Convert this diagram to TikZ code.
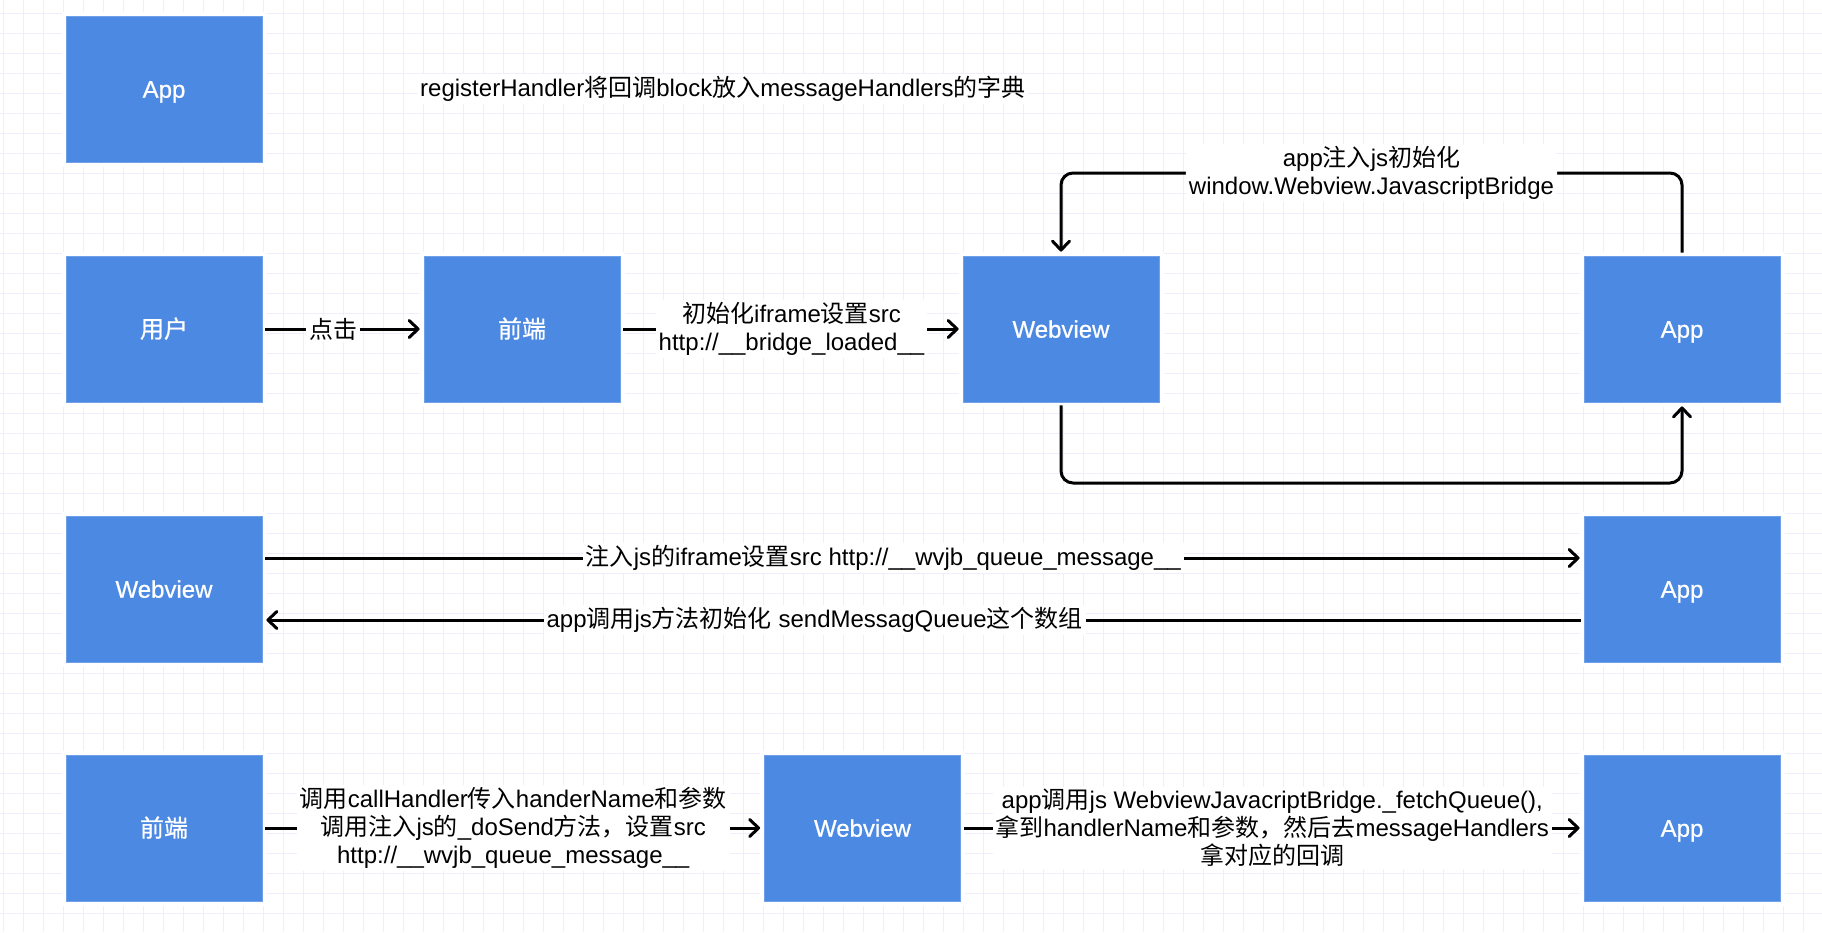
\documentclass[tikz,border=0pt]{standalone}
\usepackage{fontspec}
\setmainfont{Liberation Sans}
\newfontfamily\cjkfont{Noto Sans CJK SC}
\newfontface\boxlatin{Liberation Sans}[FakeBold=0.7]
\newfontface\boxcjk{Noto Sans CJK SC}[FakeBold=0.7]
\newcommand\zh[1]{{\cjkfont #1}}
\newcommand\bzh[1]{{\boxcjk #1}}
\newcommand\boxfont{\fontsize{24}{28}\boxlatin}
\newcommand\lblfont{\fontsize{24}{28}\selectfont}
\usetikzlibrary{arrows.meta}
\definecolor{boxblue}{RGB}{76,137,226}
\definecolor{boxedge}{RGB}{112,160,234}
\definecolor{gridline}{RGB}{238,238,252}

\begin{document}
\begin{tikzpicture}[x=1pt,y=-1pt,
  bluebox/.style={rectangle, minimum width=196pt, minimum height=146pt, inner sep=0pt,
    text height=22pt, text depth=4.6pt,
    fill=boxblue, draw=boxedge, line width=0.8pt,
    preaction={draw=white, line width=9pt}, text=white, font=\boxfont},
  conn/.style={line width=3pt, -{Straight Barb[round, length=9pt, width=17pt]},
    shorten <=3pt, shorten >=4pt},
  lbl/.style={fill=white, inner xsep=3pt, inner ysep=2pt, align=center,
    font=\lblfont, text=black},
]
% canvas and background grid
\useasboundingbox (0,0) rectangle (1822,932);
\fill[white] (0,0) rectangle (1822,932);
\foreach \x in {3,23,...,1822} \draw[gridline, line width=1pt] (\x,0) -- (\x,932);
\foreach \y in {13,33,...,932} \draw[gridline, line width=1pt] (0,\y) -- (1822,\y);

% header
\node[bluebox] (apptop) at (164,89) {App};
\node[fill=white, inner sep=2pt, font=\lblfont] (regnote) at (723,89)
  {registerHandler\zh{将回调}block\zh{放入}messageHandlers\zh{的字典}};

% row: user click and bridge loading
\node[bluebox] (user) at (164,329) {\bzh{用户}};
\node[bluebox] (fe1)  at (522,329) {\bzh{前端}};
\node[bluebox] (wv1)  at (1061,329) {Webview};
\node[bluebox] (app1) at (1682,329) {App};
\coordinate (toplane) at (0,173);
\coordinate (botlane) at (0,483);

\draw[conn] (user) -- node[lbl, pos=0.44] {\zh{点击}} (fe1);
\draw[conn] (fe1) -- node[lbl] {\zh{初始化}iframe\zh{设置}src\\http://\_\_bridge\_loaded\_\_} (wv1);
\draw[conn, rounded corners=12pt] (app1.north) -- (app1.north |- toplane) -| node[lbl, pos=0.25]
  {app\zh{注入}js\zh{初始化}\\window.Webview.JavascriptBridge} (wv1.north);
\draw[conn, rounded corners=12pt] (wv1.south) -- (wv1.south |- botlane) -| (app1.south);

% row: queue message exchange
\node[bluebox] (wv2)  at (164,589) {Webview};
\node[bluebox] (app2) at (1682,589) {App};
\draw[conn] ([yshift=31pt]wv2.east) -- node[lbl, pos=0.47]
  {\zh{注入}js\zh{的}iframe\zh{设置}src http://\_\_wvjb\_queue\_message\_\_} ([yshift=31pt]app2.west);
\draw[conn] ([yshift=-31pt]app2.west) -- node[lbl, pos=0.582]
  {app\zh{调用}js\zh{方法初始化} sendMessagQueue\zh{这个数组}} ([yshift=-31pt]wv2.east);

% row: calling a handler
\node[bluebox] (fe3)  at (164,828) {\bzh{前端}};
\node[bluebox] (wv3)  at (862.5,828) {Webview};
\node[bluebox] (app3) at (1682,828) {App};
\draw[conn] (fe3) -- node[lbl]
  {\zh{调用}callHandler\zh{传入}handerName\zh{和参数}\\\zh{调用注入}js\zh{的}\_doSend\zh{方法，设置}src\\http://\_\_wvjb\_queue\_message\_\_} (wv3);
\draw[conn] (wv3) -- node[lbl]
  {app\zh{调用}js WebviewJavacriptBridge.\_fetchQueue(),\\\zh{拿到}handlerName\zh{和参数，然后去}messageHandlers\\\zh{拿对应的回调}} (app3);
\end{tikzpicture}
\end{document}
